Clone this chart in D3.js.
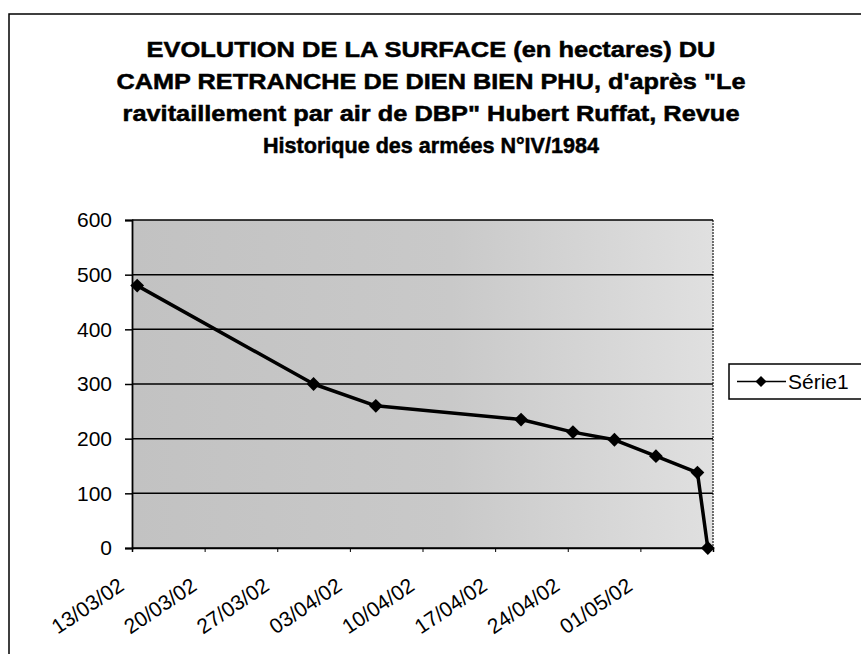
<!DOCTYPE html>
<html><head><meta charset="utf-8">
<script src="https://cdn.jsdelivr.net/npm/d3@7"></script>
<style>body{margin:0;background:#fff}</style>
</head><body><svg id="c" width="861" height="654"></svg>
<script>
const titleLines = [
  "EVOLUTION DE LA SURFACE (en hectares) DU",
  "CAMP RETRANCHE DE DIEN BIEN PHU, d'après \"Le",
  "ravitaillement par air de DBP\" Hubert Ruffat, Revue",
  "Historique des armées N°IV/1984"
];
const dates = ["13/03/02","30/03/02","05/04/02","19/04/02","24/04/02","28/04/02","02/05/02","06/05/02","07/05/02"];
const values = [480, 300, 260, 235, 212, 198, 168, 138, 0];
const yTicks = [0, 100, 200, 300, 400, 500, 600];
const xTickLabels = ["13/03/02","20/03/02","27/03/02","03/04/02","10/04/02","17/04/02","24/04/02","01/05/02"];
const xDomain = ["13/03/02", "08/05/02"];
const seriesName = "Série1";

const parse = d3.utcParse("%d/%m/%y");
const fmt = d3.utcFormat("%d/%m/%y");
const svg = d3.select("#c");
const L = 132, R = 713, T = 220, B = 548;
const FONT = "'Liberation Sans', Arial, sans-serif";

// outer frame
svg.append("rect").attr("x", 9).attr("y", 14).attr("width", 900).attr("height", 700)
  .attr("fill", "none").attr("stroke", "#000").attr("stroke-width", 1.5);

// title
const titleW = [569, 629, 617, 336];
const titleY = [57, 89, 121, 153];
svg.append("g").selectAll("text").data(titleLines).join("text")
  .attr("x", 431).attr("y", (d, i) => titleY[i])
  .attr("text-anchor", "middle")
  .attr("font-family", "'Liberation Sans Narrow', 'Liberation Sans', Arial, sans-serif")
  .attr("font-weight", "bold").attr("font-size", 22)
  .attr("stroke", "#000").attr("stroke-width", 0.5)
  .attr("textLength", (d, i) => titleW[i]).attr("lengthAdjust", "spacingAndGlyphs")
  .text(d => d);

const x = d3.scaleUtc().domain(xDomain.map(parse)).range([L, R]);
const y = d3.scaleLinear().domain([0, 600]).range([B, T]);

// plot background (stipple approximated by grey gradient)
const defs = svg.append("defs");
const grad = defs.append("linearGradient").attr("id", "bg").attr("x1", 0).attr("x2", 1).attr("y1", 0).attr("y2", 0);
grad.append("stop").attr("offset", 0).attr("stop-color", "#c2c2c2");
grad.append("stop").attr("offset", 0.55).attr("stop-color", "#c9c9c9");
grad.append("stop").attr("offset", 1).attr("stop-color", "#e0e0e0");
svg.append("rect").attr("x", L).attr("y", T).attr("width", R - L).attr("height", B - T).attr("fill", "url(#bg)");

// right border of plot (dotted)
svg.append("line").attr("x1", R).attr("x2", R).attr("y1", T).attr("y2", B)
  .attr("stroke", "#444").attr("stroke-width", 1.5).attr("stroke-dasharray", "2,1");

// gridlines
svg.append("g").selectAll("line").data(yTicks).join("line")
  .attr("x1", L).attr("x2", R).attr("y1", d => y(d)).attr("y2", d => y(d))
  .attr("stroke", "#000").attr("stroke-width", 1.5);

// y axis
const ya = svg.append("g").attr("transform", `translate(${L},0)`)
  .call(d3.axisLeft(y).tickValues(yTicks).tickSize(7).tickPadding(13));
ya.select(".domain").attr("stroke", "#000").attr("stroke-width", 1.8);
ya.selectAll(".tick line").attr("stroke-width", 1.5);
ya.selectAll("text").attr("font-family", FONT).attr("font-size", 21).attr("fill", "#000");

// x axis
const xa = svg.append("g").attr("transform", `translate(0,${B})`)
  .call(d3.axisBottom(x).tickValues(xTickLabels.map(parse).concat([parse(xDomain[1])])).tickSize(4).tickFormat(d => xTickLabels.includes(fmt(d)) ? fmt(d) : ""));
xa.select(".domain").attr("stroke", "#000").attr("stroke-width", 1.5);
xa.selectAll("text")
  .attr("font-family", FONT).attr("font-size", 21).attr("fill", "#000")
  .attr("text-anchor", "end").attr("dy", 0).attr("y", 0)
  .attr("transform", "translate(-7,41) rotate(-34)");

// series
const pts = dates.map((d, i) => ({ x: x(d3.utcHour.offset(parse(d), 12)), y: y(values[i]) }));
svg.append("path").datum(pts)
  .attr("d", d3.line().x(d => d.x).y(d => d.y))
  .attr("fill", "none").attr("stroke", "#000").attr("stroke-width", 3.5).attr("stroke-linejoin", "round");
const diamond = d3.symbol().type(d3.symbolSquare).size(95);
svg.append("g").selectAll("path").data(pts).join("path")
  .attr("d", diamond)
  .attr("transform", d => `translate(${d.x},${d.y}) rotate(45)`)
  .attr("fill", "#000");

// legend
const lg = svg.append("g");
lg.append("rect").attr("x", 729).attr("y", 364).attr("width", 140).attr("height", 35)
  .attr("fill", "#fff").attr("stroke", "#000").attr("stroke-width", 1.5);
lg.append("line").attr("x1", 737).attr("x2", 786).attr("y1", 381.5).attr("y2", 381.5)
  .attr("stroke", "#000").attr("stroke-width", 1.5);
lg.append("path").attr("d", d3.symbol().type(d3.symbolSquare).size(60))
  .attr("transform", "translate(761,381.5) rotate(45)").attr("fill", "#000");
lg.append("text").attr("x", 788).attr("y", 389)
  .attr("font-family", FONT).attr("font-size", 21)
  .text(seriesName);
</script></body></html>
